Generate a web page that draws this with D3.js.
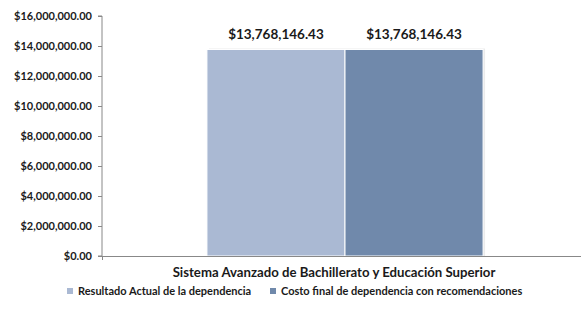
<!DOCTYPE html>
<html><head><meta charset="utf-8">
<script src="https://cdn.jsdelivr.net/npm/d3@7"></script>
<style>body{margin:0;background:#fff}svg{display:block}text{font-family:Lato,"Open Sans",sans-serif;font-weight:bold;fill:#1a1a1a}</style>
</head><body>
<svg id="c" width="581" height="314"></svg>
<script>
const categories = ["Sistema Avanzado de Bachillerato y Educación Superior"];
const seriesNames = ["Resultado Actual de la dependencia", "Costo final de dependencia con recomendaciones"];
const seriesValues = [13768146.43, 13768146.43];
const seriesColors = ["#AAB9D3", "#7089AB"];
const yTicks = [0, 2000000, 4000000, 6000000, 8000000, 10000000, 12000000, 14000000, 16000000];

(function () {
const svg = d3.select("#c");
const mLeft = 102, mRight = 588, mTop = 16, mBottom = 256;
const y = d3.scaleLinear().domain([0, 16000000]).range([mBottom, mTop]);
const x0 = d3.scaleBand().domain(categories).range([mLeft, mRight]).paddingInner(0).paddingOuter(0.38);
const x1 = d3.scaleBand().domain(seriesNames).range([0, x0.bandwidth()]).padding(0);
const fmt = v => "$" + d3.format(",.2f")(v);

// y axis
const ya = svg.append("g").attr("transform", `translate(${mLeft},0)`)
  .call(d3.axisLeft(y).tickValues(yTicks).tickFormat(fmt).tickSize(4).tickPadding(6));
ya.select(".domain").attr("stroke", "#888").attr("d", `M-4,${mTop}H0V${mBottom}H-4`);
ya.selectAll(".tick line").attr("stroke", "#888");
ya.selectAll(".tick text").attr("font-size", 11).attr("font-family", "Lato").attr("font-weight", "bold").attr("fill", "#1a1a1a");

// shadow + bars
const g = svg.append("g");
categories.forEach(c => {
  seriesNames.forEach((s, i) => {
    const bx = x0(c) + x1(s), bw = x1.bandwidth();
    g.append("rect").attr("x", bx + 2).attr("y", y(seriesValues[i]) - 1).attr("width", bw).attr("height", mBottom - y(seriesValues[i]) + 1)
      .attr("fill", "#000").attr("opacity", 0.08);
  });
  seriesNames.forEach((s, i) => {
    const bx = x0(c) + x1(s), bw = x1.bandwidth();
    g.append("rect").attr("x", bx).attr("y", y(seriesValues[i])).attr("width", bw).attr("height", mBottom - y(seriesValues[i]))
      .attr("fill", seriesColors[i]).attr("stroke", "#fff").attr("stroke-width", 1);
    g.append("text").attr("x", bx + bw / 2).attr("y", y(seriesValues[i]) - 10).attr("text-anchor", "middle")
      .attr("font-size", 13.5).text(fmt(seriesValues[i]));
  });
});

// x axis line
svg.append("line").attr("x1", mLeft - 4).attr("x2", 581).attr("y1", mBottom + 0.5).attr("y2", mBottom + 0.5).attr("stroke", "#888");
svg.append("line").attr("x1", mLeft + 0.5).attr("x2", mLeft + 0.5).attr("y1", mBottom).attr("y2", mBottom + 4).attr("stroke", "#888");

// category label
svg.append("text").attr("x", 334).attr("y", 277).attr("text-anchor", "middle").attr("font-size", 13.2).text(categories[0]);

// legend
const legX = [67, 270];
seriesNames.forEach((s, i) => {
  svg.append("rect").attr("x", legX[i]).attr("y", 288).attr("width", 6).attr("height", 6).attr("fill", seriesColors[i]);
  svg.append("text").attr("x", legX[i] + 11).attr("y", 295).attr("font-size", 11).text(s);
});
})();
</script>
</body></html>
